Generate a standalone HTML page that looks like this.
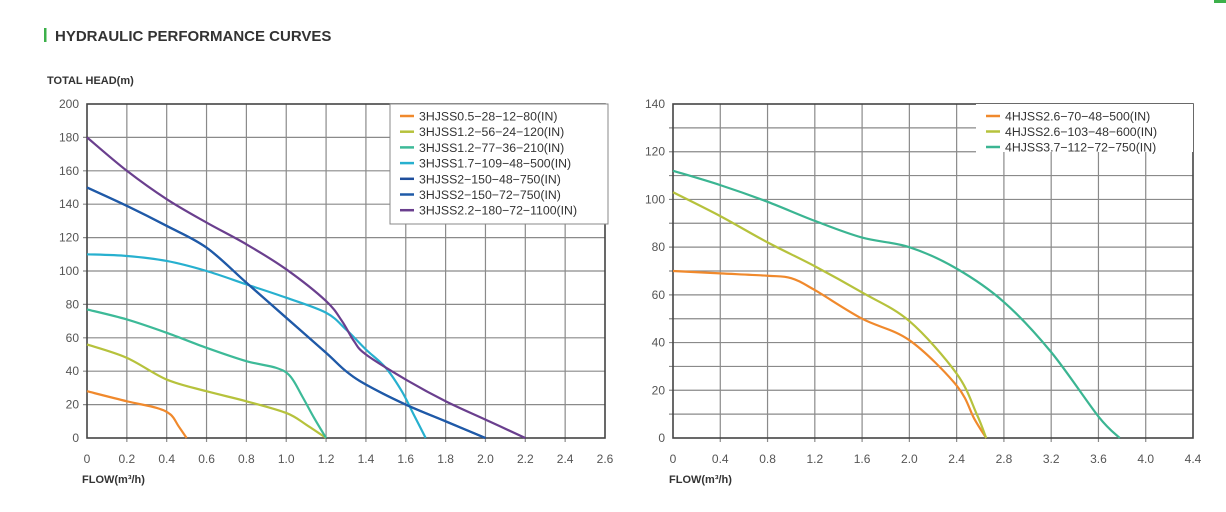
<!DOCTYPE html>
<html><head><meta charset="utf-8">
<style>
html,body{margin:0;padding:0;background:#fff;}
body{width:1226px;height:507px;overflow:hidden;font-family:"Liberation Sans",sans-serif;}
svg text{font-family:"Liberation Sans",sans-serif;}
</style></head>
<body>
<svg id="s" width="1226" height="507" xmlns="http://www.w3.org/2000/svg">
<rect x="1214" y="0" width="12" height="3" fill="#3cb04a"/>
<rect x="44" y="28" width="2.5" height="14" fill="#3cb04a"/>
<text x="55" y="41" font-size="15" font-weight="bold" fill="#333">HYDRAULIC PERFORMANCE CURVES</text>
<text x="47" y="84" font-size="11" font-weight="bold" fill="#333">TOTAL HEAD(m)</text>
<text x="82" y="483" font-size="11" font-weight="bold" fill="#333">FLOW(m³/h)</text>
<text x="669" y="483" font-size="11" font-weight="bold" fill="#333">FLOW(m³/h)</text>
<g id="g"></g>
</svg>
<script>
const NS="http://www.w3.org/2000/svg";const g=document.getElementById('g');
function el(t,a,txt){const e=document.createElementNS(NS,t);for(const k in a)e.setAttribute(k,a[k]);if(txt!==undefined)e.textContent=txt;g.appendChild(e);return e;}
function smooth(P){let d='M'+P[0][0]+','+P[0][1];for(let i=0;i<P.length-1;i++){const p0=P[i-1]||P[i],p1=P[i],p2=P[i+1],p3=P[i+2]||p2;const c1=[p1[0]+(p2[0]-p0[0])/6,p1[1]+(p2[1]-p0[1])/6],c2=[p2[0]-(p3[0]-p1[0])/6,p2[1]-(p3[1]-p1[1])/6];d+=` C${c1[0]},${c1[1]} ${c2[0]},${c2[1]} ${p2[0]},${p2[1]}`;}return d;}
function chart(o){
 const X=v=>o.x0+(v/o.xmax)*(o.x1-o.x0),Y=v=>o.y0-(v/o.ymax)*(o.y0-o.y1);
 // horizontal grid
 for(let v=o.ystep;v<o.ymax;v+=o.ystep){const y=Y(v);el('line',{x1:o.x0-4,x2:(y<o.lb?o.lx:o.x1),y1:y,y2:y,stroke:'#8a8a8a','stroke-width':1.2});}
 for(let i=1;i*o.xstep<o.xmax-1e-9;i++){const x=X(i*o.xstep);el('line',{x1:x,x2:x,y1:(x>o.lx?o.lb:o.y1),y2:o.y0+4,stroke:'#8a8a8a','stroke-width':1.2});}
 el('rect',{x:o.x0,y:o.y1,width:o.x1-o.x0,height:o.y0-o.y1,fill:'none',stroke:'#444','stroke-width':1.6});
 for(let v=0;v<=o.ymax+1e-9;v+=o.ylab)el('text',{x:o.x0-8,y:Y(v)+4,'font-size':12,fill:'#555','text-anchor':'end'},v);
 o.xl.forEach((s,i)=>el('text',{x:X(i*o.xlab),y:o.y0+25,'font-size':12,fill:'#555','text-anchor':'middle'},s));
 o.series.forEach(s=>el('path',{d:smooth(s.p.map(q=>[X(q[0]),Y(q[1])])),fill:'none',stroke:s.c,'stroke-width':2.2,'stroke-linejoin':'round'}));
 el('rect',{x:o.lx,y:o.y1,width:o.x1-o.lx+o.lext,height:o.lb-o.y1,fill:'#fff',stroke:o.lborder,'stroke-width':1});
 o.series.forEach((s,i)=>{if(!s.n)return;const y=o.y1+12+i*o.lh;el('line',{x1:o.lx+10,x2:o.lx+24,y1:y,y2:y,stroke:s.c,'stroke-width':2.5});el('text',{x:o.lx+29,y:y+4.5,'font-size':12.3,fill:'#333'},s.n);});
}
chart({x0:87,x1:605,y0:438,y1:104,xmax:2.6,ymax:200,ystep:20,ylab:20,xstep:0.2,xlab:0.2,
 xl:['0','0.2','0.4','0.6','0.8','1.0','1.2','1.4','1.6','1.8','2.0','2.2','2.4','2.6'],
 lx:390,lb:224,lext:3,lh:15.7,lborder:'#888',
 series:[
 {c:'#f0892c',n:'3HJSS0.5−28−12−80(IN)',p:[[0,28],[0.2,22],[0.35,18],[0.42,14],[0.46,7],[0.5,0]]},
 {c:'#b6c23c',n:'3HJSS1.2−56−24−120(IN)',p:[[0,56],[0.2,48],[0.4,35],[0.6,28],[0.8,22],[1.0,15],[1.1,8],[1.2,0]]},
 {c:'#3dba98',n:'3HJSS1.2−77−36−210(IN)',p:[[0,77],[0.2,71],[0.4,63],[0.6,54],[0.8,46],[0.95,42],[1.02,37],[1.08,25],[1.14,12],[1.2,0]]},
 {c:'#27b0cf',n:'3HJSS1.7−109−48−500(IN)',p:[[0,110],[0.2,109],[0.4,106],[0.6,100],[0.8,92],[1.0,84],[1.2,75],[1.3,65],[1.4,53],[1.5,42],[1.58,28],[1.64,14],[1.7,0]]},
 {c:'#1f4e9c',n:'3HJSS2−150−48−750(IN)',p:[[0,150],[0.2,139],[0.4,127],[0.6,114],[0.8,93],[1.0,72],[1.2,51],[1.3,40],[1.4,32],[1.6,20],[1.8,10],[2.0,0]]},
 {c:'#1f5aa8',n:'3HJSS2−150−72−750(IN)',p:[[0,150],[0.2,139],[0.4,127],[0.6,114],[0.8,93],[1.0,72],[1.2,51],[1.3,40],[1.4,32],[1.6,20],[1.8,10],[2.0,0]]},
 {c:'#6a3f8e',n:'3HJSS2.2−180−72−1100(IN)',p:[[0,180],[0.2,160],[0.4,143],[0.6,129],[0.8,116],[1.0,101],[1.2,82],[1.28,70],[1.34,58],[1.4,50],[1.6,35],[1.8,22],[2.0,11],[2.2,0]]}
 ]});
chart({x0:673,x1:1193,y0:438,y1:104,xmax:4.4,ymax:140,ystep:10,ylab:20,xstep:0.4,xlab:0.4,
 xl:['0','0.4','0.8','1.2','1.6','2.0','2.4','2.8','3.2','3.6','4.0','4.4'],
 lx:976,lb:152,lext:0,lh:15.5,lborder:'none',
 series:[
 {c:'#f0892c',n:'4HJSS2.6−70−48−500(IN)',p:[[0,70],[0.4,69],[0.8,68],[1.0,67],[1.2,62],[1.6,50],[2.0,41],[2.4,22],[2.55,8],[2.65,0]]},
 {c:'#b6c23c',n:'4HJSS2.6−103−48−600(IN)',p:[[0,103],[0.4,93],[0.8,82],[1.2,72],[1.6,61],[2.0,49],[2.4,27],[2.57,10],[2.65,0]]},
 {c:'#3bb592',n:'4HJSS3.7−112−72−750(IN)',p:[[0,112],[0.4,106],[0.8,99],[1.2,91],[1.6,84],[2.0,80],[2.4,71],[2.8,57],[3.2,36],[3.6,9],[3.78,0]]}
 ]});
</script>
</body></html>
